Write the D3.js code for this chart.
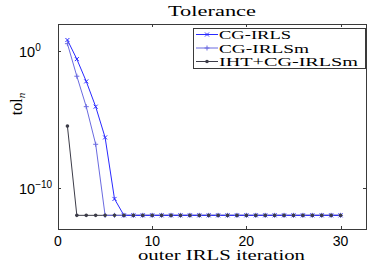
<!DOCTYPE html>
<html>
<head>
<meta charset="utf-8">
<script src="https://cdn.jsdelivr.net/npm/d3@7"></script>
<style>
  body { margin: 0; background: #fff; }
  svg { display: block; }
  .serif { font-family: "Liberation Serif", "DejaVu Serif", serif; }
  .sans { font-family: "Liberation Sans", Arial, sans-serif; }
</style>
</head>
<body>
<div id="chart"></div>
<script>
// iterations and log10(tol_n)
var iterCG = [1, 2, 3, 4, 5, 6, 7, 8, 9, 10, 11, 12, 13, 14, 15, 16, 17, 18, 19, 20, 21, 22, 23, 24, 25, 26, 27, 28, 29, 30];
var logCG = [0.83, -0.57, -2.2, -4.05, -6.3, -10.8, -12, -12, -12, -12, -12, -12, -12, -12, -12, -12, -12, -12, -12, -12, -12, -12, -12, -12, -12, -12, -12, -12, -12, -12];
var logCGm = [0.56, -1.82, -4.05, -6.8, -12, -12, -12, -12, -12, -12, -12, -12, -12, -12, -12, -12, -12, -12, -12, -12, -12, -12, -12, -12, -12, -12, -12, -12, -12, -12];
var logIHT = [-5.47, -12, -12, -12, -12, -12, -12, -12, -12, -12, -12, -12, -12, -12, -12, -12, -12, -12, -12, -12, -12, -12, -12, -12, -12, -12, -12, -12, -12, -12];

var seriesNames = ['CG-IRLS', 'CG-IRLSm', 'IHT+CG-IRLSm'];
var seriesColors = ['#2a2aff', '#6b6be0', '#3c3c48'];
var legendWidths = [72, 90, 139];
var xTicks = [0, 10, 20, 30];
var yTicks = [0, -10];

var W = 374, H = 263;
var margin = {left: 58, top: 24, right: 8, bottom: 34};

var svg = d3.select('#chart').append('svg')
    .attr('width', W)
    .attr('height', H);

var x = d3.scaleLinear().domain([0, 32.7]).range([margin.left, W - margin.right]);
var y = d3.scaleLog().domain([1e-13, 1e2]).range([H - margin.bottom, margin.top]);

var axisColor = '#3a3a3a';
var x0 = x.range()[0], x1 = x.range()[1];
var y0 = y.range()[0], y1 = y.range()[1];

// box
svg.append('rect')
    .attr('x', x0 + 0.5).attr('y', y1 + 0.5)
    .attr('width', x1 - x0).attr('height', y0 - y1)
    .attr('fill', 'none').attr('stroke', axisColor).attr('stroke-width', 1);

var tickLen = 3;
xTicks.forEach(function (t) {
    var px = Math.round(x(t)) + 0.5;
    svg.append('line').attr('x1', px).attr('x2', px).attr('y1', y0).attr('y2', y0 - tickLen)
        .attr('stroke', axisColor);
    svg.append('line').attr('x1', px).attr('x2', px).attr('y1', y1).attr('y2', y1 + tickLen)
        .attr('stroke', axisColor);
    svg.append('text').attr('class', 'sans')
        .attr('x', x(t)).attr('y', 245.5)
        .attr('text-anchor', 'middle')
        .attr('font-size', 14)
        .text(t);
});

yTicks.forEach(function (t) {
    var py = Math.round(y(Math.pow(10, t))) + 0.5;
    svg.append('line').attr('x1', x0).attr('x2', x0 + tickLen).attr('y1', py).attr('y2', py)
        .attr('stroke', axisColor);
    svg.append('line').attr('x1', x1).attr('x2', x1 - tickLen).attr('y1', py).attr('y2', py)
        .attr('stroke', axisColor);
    var lab = svg.append('text').attr('class', 'sans')
        .attr('x', 19).attr('y', py + 5)
        .attr('font-size', 14.5);
    lab.append('tspan').text('10');
    lab.append('tspan').attr('font-size', 10).attr('dy', -6)
        .text(t === 0 ? '0' : '\u221210');
});

// lines
var line = d3.line()
    .x(function (d) { return x(d[0]); })
    .y(function (d) { return y(Math.pow(10, d[1])); });

var allLogs = [logCG, logCGm, logIHT];
var plotG = svg.append('g');

[2, 1, 0].forEach(function (k) {
    var pts = iterCG.map(function (it, i) { return [it, allLogs[k][i]]; });
    plotG.append('path')
        .attr('d', line(pts))
        .attr('fill', 'none')
        .attr('stroke', seriesColors[k])
        .attr('stroke-width', 1);
});

function drawMarker(g, k, cx, cy) {
    var c = seriesColors[k];
    if (k === 0) {
        g.append('path').attr('d', 'M' + (cx - 2) + ',' + (cy - 2) + 'L' + (cx + 2) + ',' + (cy + 2) +
            'M' + (cx - 2) + ',' + (cy + 2) + 'L' + (cx + 2) + ',' + (cy - 2))
            .attr('stroke', c).attr('stroke-width', 1);
    } else if (k === 1) {
        g.append('path').attr('d', 'M' + (cx - 2.5) + ',' + cy + 'L' + (cx + 2.5) + ',' + cy +
            'M' + cx + ',' + (cy - 2.5) + 'L' + cx + ',' + (cy + 2.5))
            .attr('stroke', c).attr('stroke-width', 1);
    } else {
        g.append('circle').attr('cx', cx).attr('cy', cy).attr('r', 1.8).attr('fill', c);
    }
}

[0, 1, 2].forEach(function (k) {
    iterCG.forEach(function (it, i) {
        drawMarker(plotG, k, x(it), y(Math.pow(10, allLogs[k][i])));
    });
});

// title and axis labels (glyphs stretched a bit to get the wide TeX look)
svg.append('text').attr('class', 'serif')
    .attr('x', 168).attr('y', 16)
    .attr('font-size', 15)
    .attr('textLength', 88).attr('lengthAdjust', 'spacingAndGlyphs')
    .text('Tolerance');

svg.append('text').attr('class', 'serif')
    .attr('x', 138).attr('y', 260)
    .attr('font-size', 15)
    .attr('textLength', 167).attr('lengthAdjust', 'spacingAndGlyphs')
    .text('outer IRLS iteration');

var yl = svg.append('text').attr('class', 'serif')
    .attr('transform', 'translate(22,104) rotate(-90)')
    .attr('text-anchor', 'middle').attr('font-size', 16);
yl.append('tspan').text('tol');
yl.append('tspan').attr('font-size', 11).attr('dy', 3).attr('font-style', 'italic').text('n');

// legend
var lg = svg.append('g');
lg.append('rect')
    .attr('x', 193.5).attr('y', 28.5).attr('width', 172).attr('height', 40)
    .attr('fill', '#fff').attr('stroke', axisColor);
seriesNames.forEach(function (name, k) {
    var ly = 34.5 + k * 13.5;
    lg.append('line').attr('x1', 196).attr('x2', 218).attr('y1', ly).attr('y2', ly)
        .attr('stroke', seriesColors[k]);
    drawMarker(lg, k, 207, ly);
    lg.append('text').attr('class', 'serif')
        .attr('x', 219).attr('y', ly + 4.5)
        .attr('font-size', 13.5)
        .attr('textLength', legendWidths[k]).attr('lengthAdjust', 'spacingAndGlyphs')
        .text(name);
});
</script>
</body>
</html>
